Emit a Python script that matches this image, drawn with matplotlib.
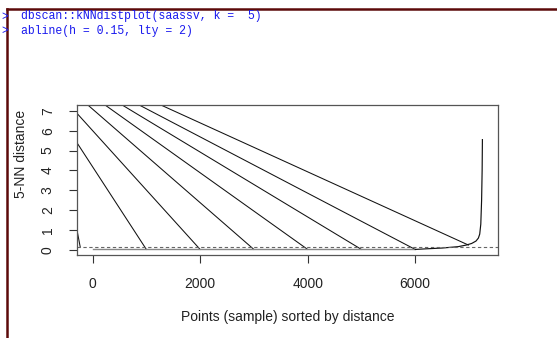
import numpy as np
import matplotlib
matplotlib.use("Agg")
import matplotlib.pyplot as plt
from matplotlib.lines import Line2D

# console lines shown above the plot
cmd_lines = ["dbscan::kNNdistplot(saassv, k =  5)", "abline(h = 0.15, lty = 2)"]

# sorted 5-NN distance curve (index, distance)
curve_x = [0, 6000, 6200, 6500, 6800, 6950, 7050, 7130, 7175, 7200, 7220, 7235, 7245, 7250]
curve_y = [0.03, 0.03, 0.06, 0.10, 0.17, 0.25, 0.33, 0.45, 0.60, 0.80, 1.30, 2.50, 4.00, 5.55]

# diagonal segments (start -> end)
seg_x0 = [-290, -290, -290, -88, 232, 550, 867, 1270]
seg_y0 = [1.0, 5.39, 6.87, 7.29, 7.29, 7.29, 7.29, 7.29]
seg_x1 = [-230, 1000, 2000, 3000, 4000, 5000, 6000, 6990]
seg_y1 = [0.15, 0.03, 0.03, 0.03, 0.03, 0.03, 0.03, 0.25]

h_line = 0.15
xticks = [0, 2000, 4000, 6000]
yticks = [0, 1, 2, 3, 4, 5, 6, 7]

W, H = 557, 338
fig = plt.figure(figsize=(W / 100, H / 100), dpi=100)
plt.rcParams['font.family'] = ['Liberation Sans', 'DejaVu Sans']

ax = fig.add_axes([77 / W, 1 - 255 / H, (498 - 77) / W, (255 - 105) / H])
ax.set_xlim(-290, 7540)
ax.set_ylim(-0.25, 7.29)

for i in range(len(seg_x0)):
    ax.plot([seg_x0[i], seg_x1[i]], [seg_y0[i], seg_y1[i]], color="#111111", lw=0.75)

ax.plot(curve_x[:2], curve_y[:2], color="#888888", lw=1.0)
ax.plot(curve_x[1:], curve_y[1:], color="#111111", lw=0.85)
ax.axhline(h_line, color="#666666", lw=0.8, ls=(0, (3, 2.3)))

for s in ax.spines.values():
    s.set_color("#555555")
    s.set_linewidth(0.9)

ax.set_xticks(xticks)
ax.set_xticklabels([str(t) for t in xticks])
ax.set_yticks(yticks)
ax.set_yticklabels([str(t) for t in yticks], rotation=90, va="center")
ax.tick_params(axis="both", direction="out", length=6, width=0.8, color="#333333",
               labelsize=10, labelcolor="#222222")
ax.tick_params(axis="x", pad=10)
ax.tick_params(axis="y", pad=10)

fig.text(287.5 / W, 1 - 316.7 / H, "Points (sample) sorted by distance",
         ha="center", va="center", fontsize=10, color="#222222")
fig.text(21 / W, 1 - 154 / H, "5-NN distance", rotation=90,
         ha="center", va="center", fontsize=10, color="#222222")

# console text
for i, line in enumerate(cmd_lines):
    y = 1 - (16.5 + 14.5 * i) / H
    fig.text(1 / W, y, ">", family="Liberation Mono", fontsize=8.3,
             color="#1a1aee", va="center")
    fig.text(21 / W, y, line, family="Liberation Mono",
             fontsize=8.3, color="#1a1aee", va="center")

# window borders
fig.add_artist(Line2D([7 / W, 1], [1 - 8.5 / H, 1 - 8.5 / H], color="#5c0a0a", lw=1.8,
                      transform=fig.transFigure))
fig.add_artist(Line2D([7 / W, 7 / W], [0, 1 - 8.5 / H], color="#5c0a0a", lw=1.8,
                      transform=fig.transFigure))

fig.savefig("out.png", dpi=100)
